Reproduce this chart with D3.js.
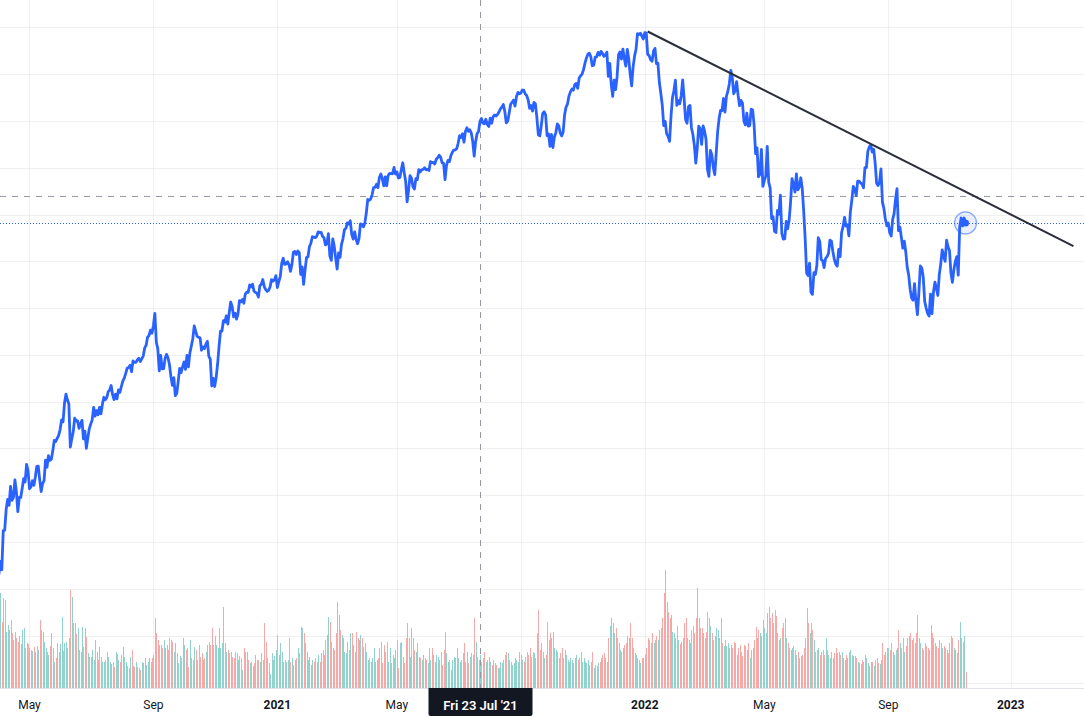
<!DOCTYPE html>
<html>
<head>
<meta charset="utf-8">
<script src="https://cdn.jsdelivr.net/npm/d3@7"></script>
<style>
  html, body { margin: 0; padding: 0; background: #fff; }
  svg { display: block; font-family: "Trebuchet MS", Roboto, "DejaVu Sans", sans-serif; }
</style>
</head>
<body>
<div id="chart"></div>
<script>
// daily closes (SPY), one value per trading day from 1 Apr 2020
const close2020 = [
  246.2, 251.8, 248.2, 264.9, 265.1, 274.0, 278.2, 275.7, 283.8, 277.8, 279.1, 286.6, 281.6, 273.0, 279.1, 279.1, 283.0, 287.1, 285.7, 293.2, 290.5,
  282.8, 283.6, 286.2, 284.3, 287.7, 292.4, 292.5, 286.7, 281.6, 285.0, 286.3, 295.0, 292.0, 296.9, 294.9, 295.4, 299.1, 303.5, 303.0, 304.3,
  305.6, 308.1, 312.2, 311.4, 319.3, 323.2, 320.8, 319.0, 300.6, 304.2, 307.1, 313.0, 311.7, 311.8, 308.6, 310.6, 312.1, 304.1, 307.4, 300.1, 304.5, 308.4,
  310.5, 312.2, 317.6, 313.8, 316.2, 314.4, 317.6, 314.8, 318.9, 321.9, 320.8, 321.7, 324.3, 325.0, 326.9, 323.0, 320.9, 323.2, 321.2, 325.0, 324.0, 326.5,
  328.8, 330.1, 332.1, 334.3, 334.6, 335.6, 332.8, 337.4, 336.8, 336.8, 337.9, 338.6, 337.2, 338.3, 339.5, 343.0, 344.1, 347.6, 348.3, 350.6, 349.3,
  352.6, 357.7, 345.4, 342.6, 333.2, 339.8, 334.0, 334.1, 338.5, 340.2, 338.8, 335.8, 330.7, 327.0, 330.3, 322.6, 323.5, 328.7, 334.2, 332.4, 334.9,
  337.0, 333.8, 339.8, 334.9, 340.8, 343.8, 346.9, 352.4, 350.1, 347.9, 347.5, 347.3, 342.0, 343.4, 342.7, 344.6, 345.8, 339.4, 338.2, 326.7, 330.0, 326.5,
  330.2, 336.0, 343.5, 350.2, 350.2, 354.6, 354.0, 356.7, 353.2, 358.1, 362.6, 360.6, 356.3, 357.8, 355.3, 357.5, 363.2, 362.7, 363.7, 362.1,
  366.0, 366.8, 366.7, 369.9, 369.1, 370.2, 367.2, 366.7, 366.3, 364.7, 369.6, 370.2, 372.2, 369.2, 367.9, 367.2, 367.6, 369.0, 372.2, 371.5, 372.0, 373.9
]
const close2021 = [
  368.8, 371.3, 373.6, 379.1, 381.3, 378.7, 378.9, 379.8, 378.5, 375.7, 378.7, 383.9, 384.2, 382.9, 384.4, 383.8, 374.4, 377.6, 370.1,
  376.2, 381.6, 381.9, 386.2, 387.7, 390.5, 390.3, 390.1, 390.7, 392.6, 392.3, 392.4, 390.7, 390.0, 387.0, 387.5, 391.8, 382.3, 380.4,
  389.6, 386.5, 381.4, 376.7, 383.6, 381.7, 387.2, 389.6, 393.5, 394.1, 396.4, 395.9, 397.3, 391.5, 389.5, 392.6, 389.5, 387.5, 389.7, 396.0, 395.8, 394.7, 396.3,
  400.6, 406.4, 406.1, 406.6, 408.5, 411.5, 411.6, 412.9, 411.5, 415.9, 417.3, 415.2, 412.2, 416.1, 412.3, 416.7, 417.6, 417.5, 417.4, 420.1, 417.3,
  418.2, 415.6, 415.8, 419.1, 422.1, 417.9, 414.2, 405.4, 410.3, 416.6, 415.5, 411.9, 410.9, 415.3, 414.9, 419.2, 418.2, 419.1, 419.3, 420.0,
  419.1, 419.3, 418.8, 422.6, 422.2, 422.3, 421.6, 423.6, 424.3, 425.3, 424.5, 422.1, 422.0, 414.9, 420.9, 423.1, 422.6, 425.1, 426.6, 427.5, 427.6, 428.1,
  430.4, 433.7, 432.9, 434.5, 430.9, 435.5, 437.1, 435.6, 436.2, 434.8, 431.3, 425.0, 431.1, 434.6, 435.5, 439.9, 441.0, 439.0, 438.8, 440.7, 438.5,
  437.6, 441.2, 439.0, 441.8, 442.5, 442.1, 442.7, 443.8, 445.1, 445.9, 447.0, 444.0, 439.2, 439.9, 443.4, 447.1, 448.0, 448.9, 446.3, 450.3, 452.2, 451.6,
  451.8, 453.2, 453.1, 451.5, 450.9, 449.0, 445.4, 446.6, 444.2, 447.9, 447.2, 441.4, 434.0, 433.6, 437.9, 443.2, 443.9, 442.6, 433.7, 434.4, 429.1,
  434.2, 428.6, 433.1, 434.9, 438.7, 437.9, 434.9, 433.6, 435.2, 442.5, 445.9, 447.2, 450.6, 452.4, 453.6, 453.1, 455.5, 456.0, 453.9, 458.3, 459.3,
  460.0, 461.9, 464.7, 466.9, 468.5, 468.9, 467.4, 463.6, 463.8, 467.3, 467.4, 469.3, 468.1, 469.7, 468.9, 467.6, 468.2, 469.4, 459.0, 464.6, 455.6,
  450.5, 457.4, 453.4, 458.8, 468.3, 469.5, 466.4, 470.7, 466.6, 463.4, 470.6, 466.5, 459.9, 455.0, 463.1, 467.7, 470.6, 477.3, 476.9, 477.5, 476.2, 475.0
]
const close2022 = [
  477.7, 477.6, 468.4, 467.9, 466.1, 465.5, 469.8, 471.0, 464.5, 464.7, 456.5, 451.8, 446.8, 438.0, 439.8, 434.5, 433.4, 431.2, 442.0, 449.9,
  453.0, 457.4, 446.6, 448.7, 447.3, 450.9, 457.5, 449.3, 440.5, 439.0, 446.1, 446.6, 437.1, 434.2, 429.6, 422.0, 428.3, 437.8, 436.6,
  430.0, 437.9, 435.7, 432.2, 419.4, 416.3, 427.4, 425.5, 420.1, 417.0, 426.2, 435.6, 441.1, 444.5, 444.4, 449.6, 443.8, 450.5, 452.7, 455.9, 461.6, 458.7, 451.6,
  452.9, 456.8, 451.0, 446.5, 448.8, 447.6, 439.9, 438.3, 443.3, 437.8, 438.0, 445.0, 444.7, 438.1, 426.0, 428.5, 416.1, 417.3, 427.8, 412.0,
  414.5, 416.4, 429.1, 413.8, 411.3, 398.2, 399.1, 392.8, 392.3, 401.7, 400.1, 408.3, 391.9, 389.5, 389.6, 397.0, 393.9, 397.4, 405.3, 415.3, 412.9,
  409.6, 417.4, 410.5, 411.8, 415.7, 411.2, 401.4, 389.8, 375.0, 373.9, 379.2, 366.7, 365.9, 375.1, 374.4, 378.1, 390.1, 388.6, 380.7, 380.3, 377.3,
  381.2, 382.0, 383.3, 389.0, 388.7, 384.2, 380.8, 378.8, 377.9, 385.1, 382.0, 392.3, 394.8, 398.8, 395.1, 395.6, 390.9, 401.0, 406.1, 412.0,
  410.8, 408.1, 414.2, 414.2, 413.5, 413.0, 411.4, 420.0, 420.0, 427.1, 428.9, 429.7, 426.7, 427.9, 422.1, 413.4, 412.4, 413.7, 419.5, 405.3, 402.6, 398.1, 395.2,
  396.4, 392.2, 390.8, 397.8, 400.4, 406.6, 411.0, 393.1, 394.6, 390.1, 385.6, 388.6, 384.1, 377.4, 374.2, 368.0, 364.3, 363.4, 370.5, 362.8, 357.2,
  366.6, 378.0, 377.1, 373.2, 362.8, 360.0, 357.7, 356.6, 366.0, 357.6, 366.8, 371.1, 368.5, 365.4, 374.3, 378.9, 384.9, 382.0, 380.0, 389.0, 386.2,
  384.5, 374.9, 371.0, 376.4, 380.0, 382.0, 374.1, 394.7, 398.5, 395.1, 398.5, 396.4
]

// daily volume, millions of shares
const vol2020 = [
  166, 190, 132, 180, 176, 112, 126, 116, 136, 110, 96, 112, 100, 92, 104, 88, 116, 120, 80, 90, 88,
  80, 76, 74, 82, 72, 84, 76, 136, 116, 112, 92, 80, 72, 66, 84, 110, 80, 52, 60, 90,
  72, 88, 142, 74, 90, 92, 80, 100, 196, 182, 130, 130, 108, 120, 76, 72, 122, 82, 120, 102, 70, 62,
  62, 76, 56, 96, 72, 56, 82, 62, 52, 52, 56, 72, 62, 52, 48, 52, 42, 72, 68, 56, 52, 66,
  82, 62, 52, 44, 40, 62, 76, 44, 42, 52, 42, 40, 36, 52, 50, 60, 46, 52, 60, 52, 60,
  66, 140, 110, 96, 86, 86, 80, 96, 80, 86, 76, 100, 96, 92, 72, 90, 70, 50, 64, 60, 100,
  86, 76, 80, 42, 96, 60, 56, 82, 76, 56, 86, 62, 70, 56, 60, 72, 86, 92, 86, 120, 86, 104,
  86, 80, 120, 80, 90, 162, 90, 72, 76, 70, 72, 62, 60, 72, 70, 56, 64, 60, 36, 80,
  72, 72, 56, 50, 52, 44, 50, 66, 56, 56, 52, 70, 56, 130, 92, 60, 50, 28, 70, 56, 64, 76
]
const vol2021 = [
  106, 66, 90, 72, 52, 56, 52, 56, 100, 52, 60, 46, 56, 60, 80, 70, 122, 120, 110,
  90, 72, 56, 62, 46, 56, 52, 60, 52, 66, 52, 70, 76, 66, 96, 106, 142, 132, 92,
  80, 76, 110, 172, 146, 116, 106, 100, 72, 70, 92, 76, 110, 110, 86, 72, 112, 100, 96, 106, 100, 82, 90,
  72, 56, 60, 52, 60, 80, 52, 56, 60, 80, 92, 50, 86, 72, 92, 52, 80, 50, 66, 60, 76,
  96, 40, 90, 92, 62, 50, 100, 130, 100, 62, 120, 100, 76, 72, 90, 62, 60, 56, 66, 60,
  56, 50, 80, 56, 80, 66, 52, 66, 62, 56, 72, 46, 76, 112, 70, 52, 56, 36, 56, 62, 60, 80,
  60, 52, 56, 70, 90, 52, 72, 50, 62, 70, 66, 140, 92, 62, 56, 66, 52, 60, 72, 52, 56,
  62, 52, 46, 56, 50, 46, 40, 40, 52, 50, 56, 66, 72, 70, 56, 52, 46, 50, 60, 56, 52, 72,
  66, 56, 52, 62, 72, 66, 80, 62, 72, 70, 60, 110, 156, 76, 90, 72, 60, 66, 132, 96, 110,
  100, 112, 80, 76, 72, 60, 70, 80, 60, 76, 66, 56, 52, 60, 56, 50, 60, 66, 56, 60, 72,
  52, 60, 52, 50, 56, 46, 52, 72, 40, 46, 44, 50, 52, 60, 66, 70, 60, 52, 100, 124, 140,
  130, 110, 120, 100, 90, 76, 72, 80, 86, 90, 104, 100, 130, 100, 80, 70, 66, 60, 56, 50, 60, 60
]
const vol2022 = [
  66, 80, 100, 96, 90, 110, 90, 96, 104, 96, 116, 120, 140, 190, 236, 172, 152, 140, 146, 112,
  110, 100, 124, 96, 88, 92, 100, 130, 140, 100, 96, 90, 116, 124, 110, 140, 200, 140, 120,
  120, 110, 100, 112, 152, 140, 124, 110, 96, 104, 120, 116, 100, 140, 90, 84, 96, 84, 90, 80, 86, 80, 92,
  90, 66, 80, 86, 72, 64, 86, 84, 76, 90, 60, 76, 80, 96, 122, 100, 116, 110, 104, 136,
  120, 110, 150, 162, 140, 150, 130, 156, 144, 110, 96, 100, 120, 130, 140, 100, 90, 80, 76, 80, 84,
  76, 66, 72, 60, 64, 66, 80, 100, 160, 130, 110, 130, 116, 96, 72, 76, 80, 66, 72, 76, 66,
  100, 76, 66, 60, 72, 60, 70, 80, 70, 72, 66, 72, 60, 56, 66, 60, 72, 76, 66, 64,
  64, 60, 52, 50, 48, 56, 52, 66, 60, 50, 44, 52, 52, 44, 56, 60, 50, 48, 56, 90, 66, 72, 80,
  80, 76, 90, 72, 66, 76, 80, 116, 90, 80, 100, 72, 84, 100, 104, 110, 96, 100, 90, 110, 146,
  100, 90, 80, 76, 90, 84, 80, 76, 126, 110, 100, 90, 84, 80, 96, 90, 80, 84, 80, 76, 70,
  90, 104, 100, 80, 76, 70, 96, 132, 100, 92, 104, 32
]

// exchange holidays (no bar on these days)
const holidays = [
  "2020-04-10", "2020-05-25", "2020-07-03", "2020-09-07", "2020-11-26", "2020-12-25",
  "2021-01-01", "2021-01-18", "2021-02-15", "2021-04-02", "2021-05-31", "2021-07-05",
  "2021-09-06", "2021-11-25", "2021-12-24", "2022-01-17", "2022-02-21", "2022-04-15",
  "2022-05-30", "2022-06-20", "2022-07-04", "2022-09-05", "2022-11-24", "2022-12-26",
  "2023-01-02", "2023-01-16", "2023-02-20"
]

const tickMonths = ["2020-05", "2020-09", "2021-01", "2021-05", "2021-09", "2022-01", "2022-05", "2022-09", "2023-01"]
const tickLabels = ["May", "Sep", "2021", "May", "Sep", "2022", "May", "Sep", "2023"]
const priceGrid = d3.range(200, 481, 20)

const crosshairDate = "2021-07-23"
const crosshairPrice = 407.9
const trendStart = ["2022-01-05", 478.2]
const trendEnd = ["2023-03-07", 386.5]


const width = 1084
const height = 717
const paneBottom = 688

const closes = close2020.concat(close2021, close2022)
const volumes = vol2020.concat(vol2021, vol2022)
if (closes.length !== volumes.length) throw new Error("length " + closes.length + " vs " + volumes.length)

// trading calendar
const holidaySet = new Set(holidays)
const iso = d => d.toISOString().slice(0, 10)
const days = []
for (let t = Date.UTC(2020, 3, 1); days.length < 760; t += 864e5) {
  const d = new Date(t)
  const wd = d.getUTCDay()
  if (wd === 0 || wd === 6 || holidaySet.has(iso(d))) continue
  days.push(d)
}
const dayIndex = s => days.findIndex(d => iso(d).startsWith(s))

const x = d3.scaleLinear().domain([0.77, 744.25]).range([0, width])
const y = d3.scaleLinear().domain([200, 480]).range([682.5, 27.3])
const yVol = d3.scaleLinear().domain([0, 236]).range([paneBottom, 570])

const svg = d3.select("#chart").append("svg")
  .attr("width", width)
  .attr("height", height)

svg.append("rect").attr("width", width).attr("height", height).attr("fill", "#ffffff")

svg.append("defs").append("clipPath").attr("id", "pane")
  .append("rect").attr("width", width).attr("height", paneBottom)

const pane = svg.append("g").attr("clip-path", "url(#pane)")

// grid
const tickIdx = tickMonths.map(dayIndex)
pane.append("g").selectAll("line").data(tickIdx).join("line")
  .attr("x1", d => Math.round(x(d)) + 0.5).attr("x2", d => Math.round(x(d)) + 0.5)
  .attr("y1", 0).attr("y2", paneBottom)
  .attr("stroke", "rgba(42,46,57,0.07)")
pane.append("g").selectAll("line").data(priceGrid).join("line")
  .attr("x1", 0).attr("x2", width)
  .attr("y1", d => Math.round(y(d)) + 0.5).attr("y2", d => Math.round(y(d)) + 0.5)
  .attr("stroke", "rgba(42,46,57,0.07)")

// volume
pane.append("g").attr("shape-rendering", "crispEdges")
  .selectAll("rect").data(volumes).join("rect")
  .attr("x", (d, i) => Math.round(x(i)))
  .attr("y", d => yVol(d))
  .attr("width", 1)
  .attr("height", d => paneBottom - yVol(d))
  .attr("fill", (d, i) => (i === 0 || closes[i] >= closes[i - 1]) ? "#92d2cc" : "#f7a9a8")

// crosshair
const chX = Math.round(x(dayIndex(crosshairDate))) + 0.5
pane.append("line")
  .attr("x1", chX).attr("x2", chX).attr("y1", 0).attr("y2", paneBottom)
  .attr("stroke", "#9598a1").attr("stroke-dasharray", "6,6")
pane.append("line")
  .attr("x1", 0).attr("x2", width)
  .attr("y1", Math.round(y(crosshairPrice)) + 0.5).attr("y2", Math.round(y(crosshairPrice)) + 0.5)
  .attr("stroke", "#9598a1").attr("stroke-dasharray", "6,6")

// last price line
const last = closes.length - 1
const lastY = Math.round(y(closes[last])) + 0.5
pane.append("line")
  .attr("x1", 0).attr("x2", width).attr("y1", lastY).attr("y2", lastY)
  .attr("stroke", "#2962ff").attr("stroke-dasharray", "1,2")

// price line
const line = d3.line()
  .x((d, i) => x(i))
  .y(d => y(d))
pane.append("path")
  .datum(closes)
  .attr("d", line)
  .attr("fill", "none")
  .attr("stroke", "#2962ff")
  .attr("stroke-width", 2.8)
  .attr("stroke-linejoin", "round")
  .attr("stroke-linecap", "round")

// trend line
pane.append("line")
  .attr("x1", x(dayIndex(trendStart[0]))).attr("y1", y(trendStart[1]))
  .attr("x2", x(dayIndex(trendEnd[0]))).attr("y2", y(trendEnd[1]))
  .attr("stroke", "#2a2e39").attr("stroke-width", 2)

// last value marker
pane.append("circle")
  .attr("cx", x(last)).attr("cy", y(closes[last])).attr("r", 11)
  .attr("fill", "rgba(41,98,255,0.1)").attr("stroke", "rgba(41,98,255,0.55)").attr("stroke-width", 1.2)
pane.append("circle")
  .attr("cx", x(last)).attr("cy", y(closes[last])).attr("r", 3.5)
  .attr("fill", "#2962ff")

// time axis
svg.append("line")
  .attr("x1", 0).attr("x2", width).attr("y1", paneBottom + 0.5).attr("y2", paneBottom + 0.5)
  .attr("stroke", "#e0e3eb")

const labelGroup = svg.append("g").attr("font-size", 12).attr("fill", "#131722")
tickIdx.forEach((d, i) => {
  if (tickMonths[i] === "2021-09") return // hidden under crosshair label
  labelGroup.append("text")
    .attr("x", x(d)).attr("y", 709)
    .attr("text-anchor", "middle")
    .attr("font-weight", /^\d/.test(tickLabels[i]) ? "bold" : "normal")
    .text(tickLabels[i])
})

const fmt = d3.utcFormat("%a %d %b '%y")
const chDay = days[dayIndex(crosshairDate)]
svg.append("path")
  .attr("d", `M${chX - 52},${paneBottom} h104 v26 a2,2 0 0 1 -2,2 h-100 a2,2 0 0 1 -2,-2 z`)
  .attr("fill", "#131722")
svg.append("text")
  .attr("x", chX).attr("y", 710)
  .attr("text-anchor", "middle")
  .attr("font-size", 13)
  .attr("font-weight", 600)
  .attr("fill", "#ffffff")
  .text(fmt(chDay))
</script>
</body>
</html>
